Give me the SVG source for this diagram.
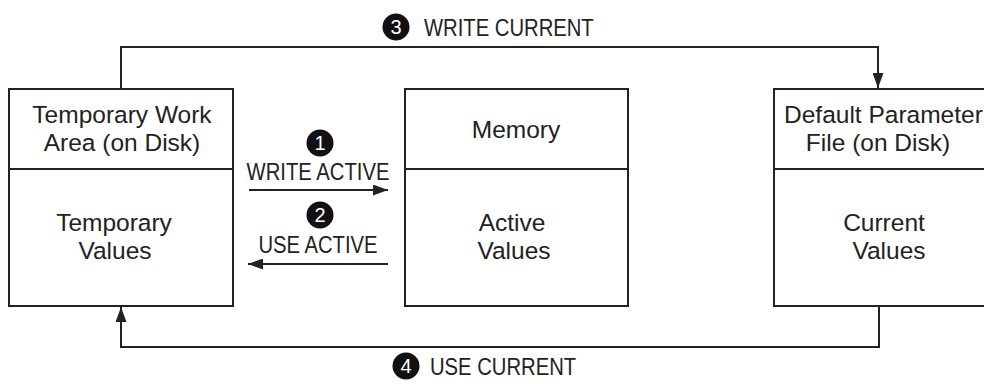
<svg xmlns="http://www.w3.org/2000/svg" width="984" height="384" viewBox="0 0 984 384">
<style>
.box{fill:#fff;stroke:#222;stroke-width:2}
.div{stroke:#222;stroke-width:2}
.bt{font-family:"Liberation Sans",Arial,sans-serif;font-size:24.5px;fill:#222}
.lt{font-family:"Liberation Sans",Arial,sans-serif;font-size:23px;fill:#222}
.num{font-family:"Liberation Sans",Arial,sans-serif;font-size:20px;fill:#fff;text-anchor:middle}
.m{text-anchor:middle}
.con{fill:none;stroke:#222;stroke-width:2}
</style>
<defs>
<marker id="ah" markerUnits="userSpaceOnUse" markerWidth="15" markerHeight="11" refX="15" refY="5.5" orient="auto">
<path d="M0,0 L15,5.5 L0,11 z" fill="#222"/>
</marker>
</defs>
<g id="temp">
<rect class="box" x="9" y="89" width="224" height="217"/>
<line class="div" x1="9" y1="169" x2="233" y2="169"/>
<text class="bt m" x="122" y="123">Temporary Work</text>
<text class="bt m" x="122" y="151">Area (on Disk)</text>
<text class="bt m" x="114" y="231">Temporary</text>
<text class="bt m" x="115" y="259">Values</text>
</g>
<g id="memory">
<rect class="box" x="405" y="89" width="223" height="217"/>
<line class="div" x1="405" y1="169" x2="628" y2="169"/>
<text class="bt m" x="516" y="138">Memory</text>
<text class="bt m" x="512" y="231">Active</text>
<text class="bt m" x="514" y="259">Values</text>
</g>
<g id="default">
<rect class="box" x="774" y="89" width="240" height="217"/>
<line class="div" x1="774" y1="169" x2="1014" y2="169"/>
<text class="bt" x="784" y="123">Default Parameter</text>
<text class="bt m" x="878" y="151">File (on Disk)</text>
<text class="bt m" x="884" y="231">Current</text>
<text class="bt m" x="889" y="259">Values</text>
</g>
<g id="connectors">
<path class="con" d="M121,89 V47 H878 V88" marker-end="url(#ah)"/>
<path class="con" d="M879,306 V347 H121 V307" marker-end="url(#ah)"/>
<path class="con" d="M249,190 H388" marker-end="url(#ah)"/>
<path class="con" d="M388,264 H248" marker-end="url(#ah)"/>
</g>
<g id="labels">
<circle cx="396" cy="27" r="13.5" fill="#111"/>
<text class="num" x="396" y="34">3</text>
<text class="lt" transform="translate(424,36) scale(0.88,1)">WRITE CURRENT</text>
<circle cx="320" cy="143" r="13.5" fill="#111"/>
<text class="num" x="320" y="150">1</text>
<text class="lt m" transform="translate(318,180) scale(0.88,1)">WRITE ACTIVE</text>
<circle cx="320" cy="215" r="13.5" fill="#111"/>
<text class="num" x="320" y="222">2</text>
<text class="lt m" transform="translate(318,253) scale(0.88,1)">USE ACTIVE</text>
<circle cx="406" cy="366" r="13.5" fill="#111"/>
<text class="num" x="406" y="373">4</text>
<text class="lt" transform="translate(430,375) scale(0.88,1)">USE CURRENT</text>
</g>
</svg>
